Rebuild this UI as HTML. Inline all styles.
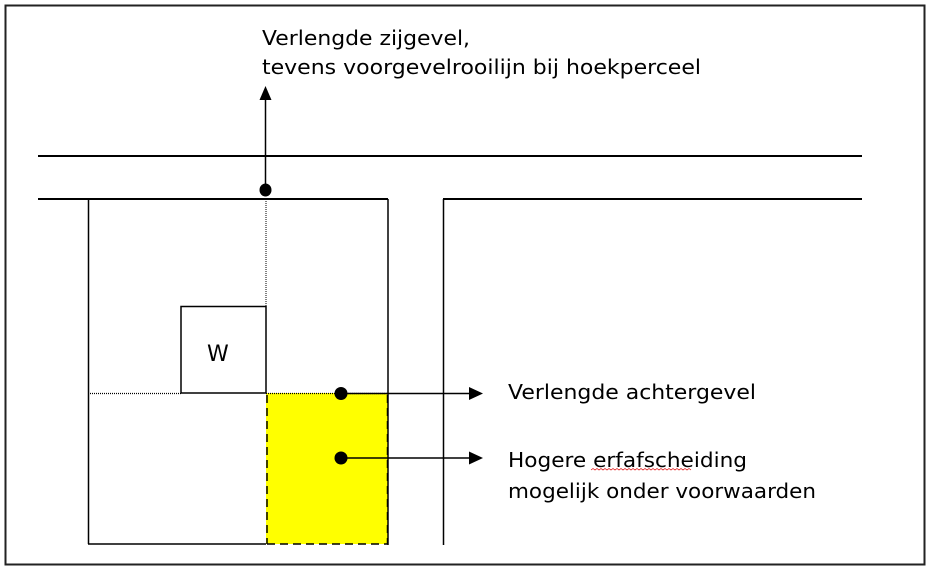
<!DOCTYPE html>
<html><head><meta charset="utf-8"><style>
html,body{margin:0;padding:0;background:#fff;width:930px;height:569px;overflow:hidden}
text{font-family:"DejaVu Sans","Liberation Sans",sans-serif;font-size:20px;fill:#000}
</style></head><body>
<svg width="930" height="569" viewBox="0 0 930 569" xmlns="http://www.w3.org/2000/svg">
<rect x="5.5" y="5.5" width="919" height="559" fill="#fff" stroke="#222" stroke-width="2"/>
<rect x="266" y="393" width="122" height="151" fill="#ffff00"/>
<line x1="38" y1="156" x2="862" y2="156" stroke="#000" stroke-width="2"/>
<line x1="38" y1="199" x2="388" y2="199" stroke="#000" stroke-width="2"/>
<line x1="443" y1="199" x2="862" y2="199" stroke="#000" stroke-width="2"/>
<line x1="88.5" y1="199" x2="88.5" y2="544" stroke="#000" stroke-width="1.5"/>
<line x1="388" y1="199" x2="388" y2="545" stroke="#000" stroke-width="1.5"/>
<line x1="88" y1="544" x2="266" y2="544" stroke="#000" stroke-width="1.5"/>
<line x1="443.5" y1="199" x2="443.5" y2="545" stroke="#000" stroke-width="1.5"/>
<rect x="181" y="306.5" width="85" height="86.5" fill="none" stroke="#000" stroke-width="1.5"/>
<text x="207" y="361" style="font-size:22px">W</text>
<line x1="88" y1="393.5" x2="181" y2="393.5" stroke="#000" stroke-width="1.2" stroke-dasharray="1,1"/>
<line x1="266" y1="393.5" x2="388" y2="393.5" stroke="#000" stroke-width="1.2" stroke-dasharray="1,1"/>
<line x1="266" y1="199" x2="266" y2="306" stroke="#000" stroke-width="1" stroke-dasharray="1,1"/>
<line x1="267" y1="395" x2="267" y2="544" stroke="#000" stroke-width="1.5" stroke-dasharray="8,5"/>
<line x1="267" y1="544" x2="388" y2="544" stroke="#000" stroke-width="1.5" stroke-dasharray="8,5"/>
<line x1="387.5" y1="395" x2="387.5" y2="544" stroke="#000" stroke-width="1.5" stroke-dasharray="8,5"/>
<line x1="265.5" y1="190" x2="265.5" y2="98" stroke="#000" stroke-width="1.5"/>
<polygon points="265.5,86 259.5,100 271.5,100" fill="#000"/>
<ellipse cx="265.5" cy="190" rx="6" ry="6.5" fill="#000"/>
<line x1="341" y1="393.5" x2="470" y2="393.5" stroke="#000" stroke-width="1.5"/>
<polygon points="483,393.5 469,387 469,400" fill="#000"/>
<circle cx="341" cy="393.5" r="6.5" fill="#000"/>
<line x1="341" y1="458" x2="470" y2="458" stroke="#000" stroke-width="1.5"/>
<polygon points="483,458 469,451.5 469,464.5" fill="#000"/>
<circle cx="341" cy="458" r="6.5" fill="#000"/>
<text x="262" y="45" textLength="208" lengthAdjust="spacingAndGlyphs">Verlengde zijgevel,</text>
<text x="262" y="74" textLength="439" lengthAdjust="spacingAndGlyphs">tevens voorgevelrooilijn bij hoekperceel</text>
<text x="508" y="399" textLength="248" lengthAdjust="spacingAndGlyphs">Verlengde achtergevel</text>
<text x="508" y="467" textLength="239" lengthAdjust="spacingAndGlyphs">Hogere erfafscheiding</text>
<text x="508" y="498" textLength="308" lengthAdjust="spacingAndGlyphs">mogelijk onder voorwaarden</text>
<path d="M591 470 l2 -1.5 l2 1.5 l2 -1.5 l2 1.5 l2 -1.5 l2 1.5 l2 -1.5 l2 1.5 l2 -1.5 l2 1.5 l2 -1.5 l2 1.5 l2 -1.5 l2 1.5 l2 -1.5 l2 1.5 l2 -1.5 l2 1.5 l2 -1.5 l2 1.5 l2 -1.5 l2 1.5 l2 -1.5 l2 1.5 l2 -1.5 l2 1.5 l2 -1.5 l2 1.5 l2 -1.5 l2 1.5 l2 -1.5 l2 1.5 l2 -1.5 l2 1.5 l2 -1.5 l2 1.5 l2 -1.5 l2 1.5 l2 -1.5 l2 1.5 l2 -1.5 l2 1.5 l2 -1.5 l2 1.5 l2 -1.5 l2 1.5 l2 -1.5 l2 1.5 l2 -1.5 l2 1.5" fill="none" stroke="#d00" stroke-width="0.7"/>
</svg>
</body></html>
